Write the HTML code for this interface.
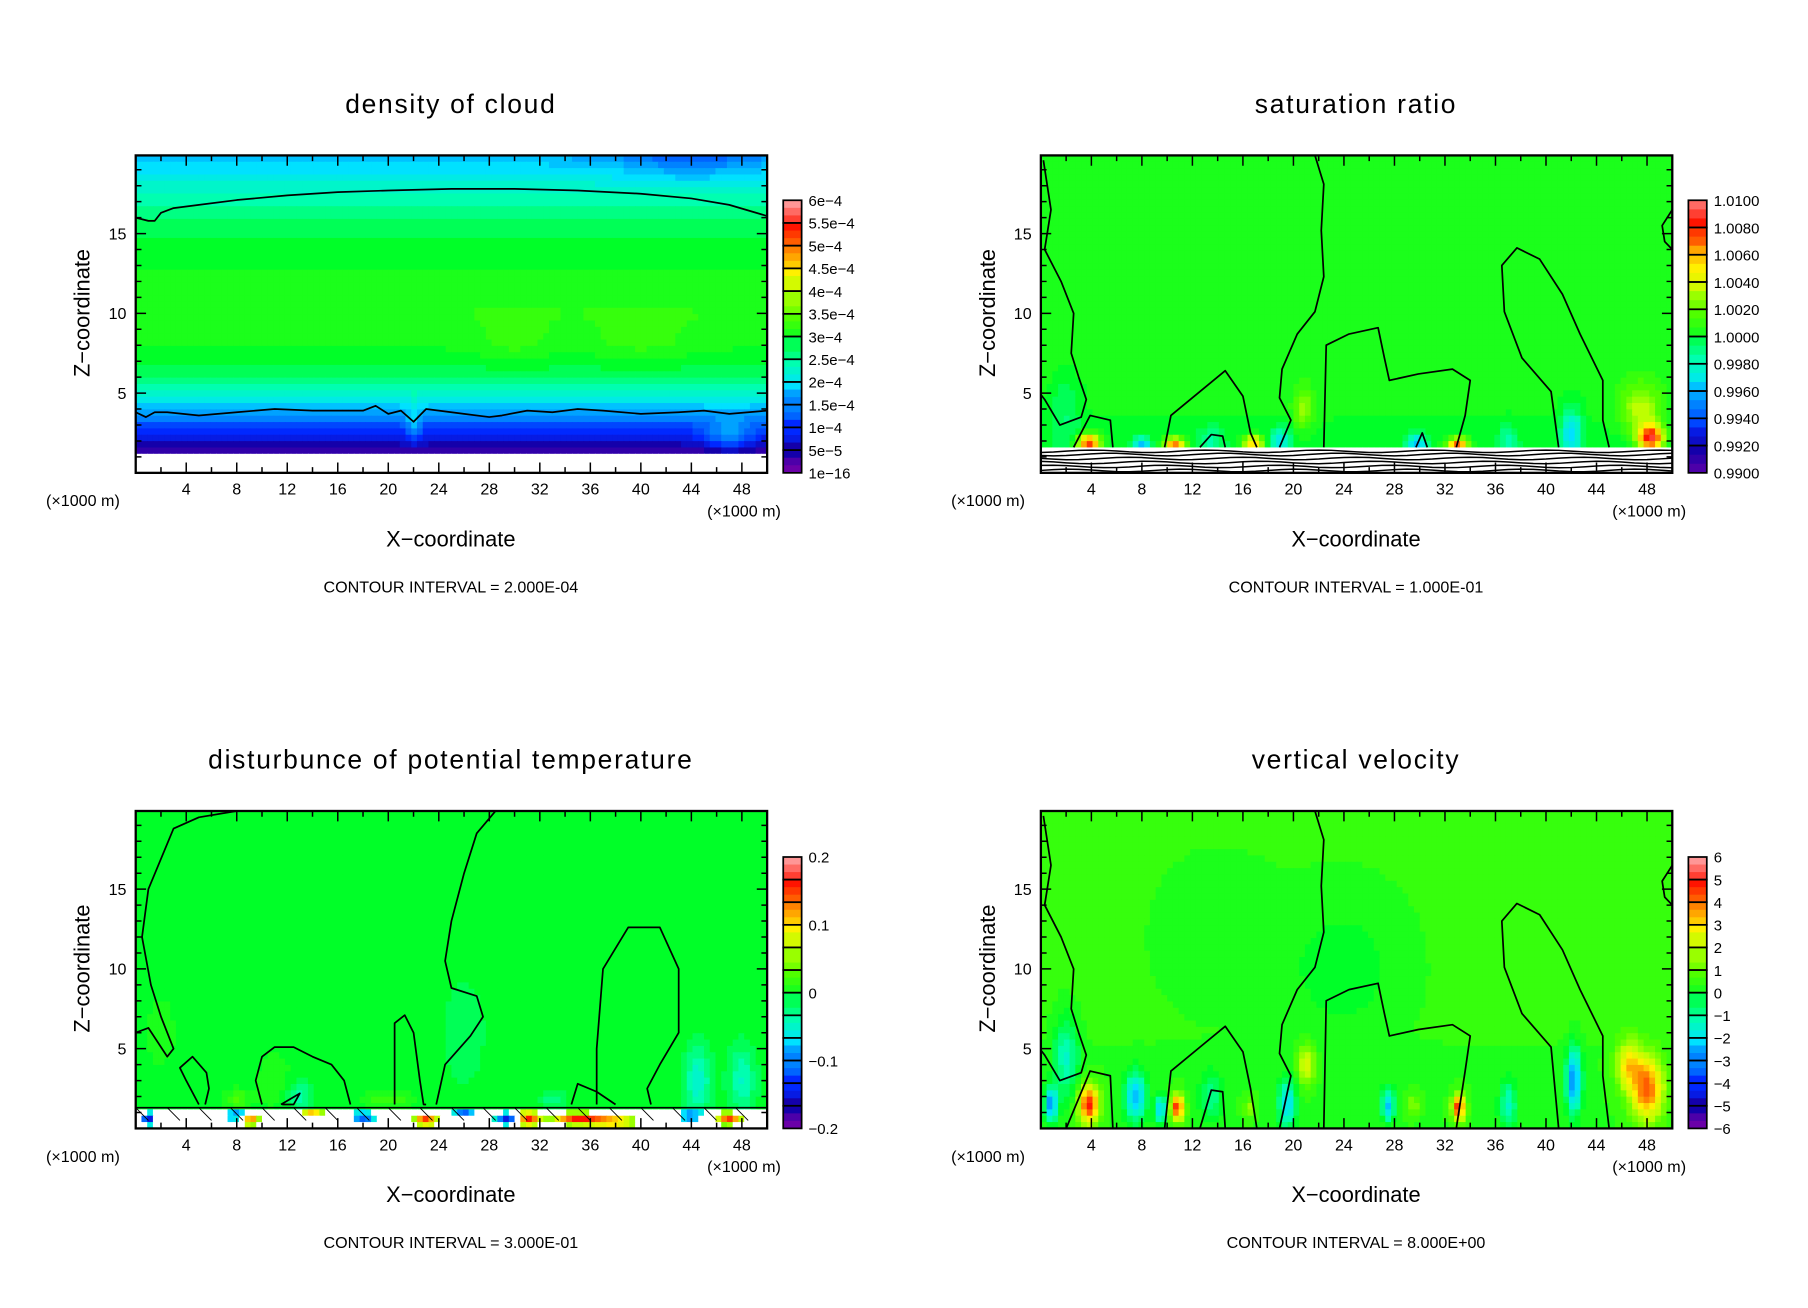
<!DOCTYPE html>
<html><head><meta charset="utf-8"><style>
html,body{margin:0;padding:0;background:#fff;}
svg{display:block;}
text{font-family:"Liberation Sans",sans-serif;fill:#000;}
</style></head><body>
<svg id="fig" width="1808" height="1308" viewBox="0 0 1572 1137" xmlns="http://www.w3.org/2000/svg"></svg>
<script>
// ---------- data ----------
const xTicks = [4,8,12,16,20,24,28,32,36,40,44,48];
const zTicks = [5,10,15];
const titles = ["density of cloud","saturation ratio","disturbunce of potential temperature","vertical velocity"];
const intervals = ["CONTOUR INTERVAL = 2.000E-04","CONTOUR INTERVAL = 1.000E-01","CONTOUR INTERVAL = 3.000E-01","CONTOUR INTERVAL = 8.000E+00"];
const cbLabels1 = ["6e\u22124","5.5e\u22124","5e\u22124","4.5e\u22124","4e\u22124","3.5e\u22124","3e\u22124","2.5e\u22124","2e\u22124","1.5e\u22124","1e\u22124","5e\u22125","1e\u221216"];
const cbLabels2 = ["1.0100","1.0080","1.0060","1.0040","1.0020","1.0000","0.9980","0.9960","0.9940","0.9920","0.9900"];
const cbLabels3 = ["0.2","0.1","0","\u22120.1","\u22120.2"];
const cbLabels4 = ["6","5","4","3","2","1","0","\u22121","\u22122","\u22123","\u22124","\u22125","\u22126"];
// vertical profiles (normalized colour-scale value vs height, km)
const profZ = [0,1.2,1.5,2,3,4,5,6,8,10,12,14,16,17.5,19,20];
const profDensity = [0.02,0.03,0.06,0.12,0.2,0.3,0.4,0.46,0.52,0.54,0.52,0.5,0.46,0.41,0.34,0.28];
const profSat = [0.5,0.5,0.5,0.5,0.51,0.52,0.52,0.53,0.53,0.53,0.53,0.53,0.53,0.53,0.53,0.53];
const profTemp = [0.5,0.5,0.5,0.5,0.5,0.5,0.5,0.5,0.5,0.5,0.5,0.5,0.5,0.5,0.5,0.5];
const profVel = [0.54,0.54,0.54,0.54,0.54,0.54,0.54,0.55,0.55,0.55,0.55,0.55,0.55,0.55,0.55,0.55];
// features: [x(km), z(km), sx, sz, amplitude]
const blobsDensity = [[44,20,6,2,-0.08],[47,2.3,2,1,0.12],[22,3,0.6,1.2,0.1],[30,8,3,2,0.03],[40,8,4,2,0.03]];
const blobsSat = [[3.8,1.9,0.9,0.5,0.4],[10.6,1.8,0.8,0.4,0.35],[33,1.8,0.8,0.4,0.35],[48.3,2.2,1,0.8,0.42],[47.5,4,1.6,1.6,0.15],[20.8,4,0.8,1.3,0.12],[16.8,1.9,0.8,0.4,0.3],
 [2,4,1.2,2.5,-0.06],[8,1.7,0.7,0.5,-0.2],[19,2,0.8,0.8,-0.15],[29.8,1.8,0.8,0.6,-0.2],[42,2.5,0.8,1.5,-0.18],[13.5,2,1,1,-0.08],[37,2,0.7,1,-0.1]];
const blobsTemp = [[8,1.8,1,0.6,0.08],[20,1.8,2,0.6,0.06],[26,6,1.5,3,-0.04],[44.5,3,1,2,-0.12],[48,3,1,2,-0.1],[13,2,1,1,-0.08],[2,6,1,2,0.04],[33,1.8,1,0.5,-0.06],[11,3,1.5,2,0.03]];
const blobsVel = [[3.8,1.5,0.8,1.2,0.37],[10.8,1.3,0.55,0.8,0.37],[33.1,1.3,0.5,0.8,0.37],[48,2.5,1.3,2,0.32],[46.5,4,1,1.5,0.2],[21,4,0.7,1.2,0.18],[16.5,1.3,0.5,0.6,0.1],[29.5,1.5,0.5,0.7,0.08],
 [0.8,1.5,0.5,1,-0.28],[7.5,2,0.8,1.5,-0.25],[9.5,1.2,0.5,0.8,-0.22],[2,4.5,1,2.5,-0.14],[13.5,2,1,1.5,-0.1],[19.5,1.5,0.7,1.5,-0.2],[27.5,1.4,0.5,1,-0.22],[42.2,3,0.6,2,-0.28],[37,1.5,0.7,1.5,-0.14],[24,10,5,5,-0.05],[14,12,5,5,-0.03]];
const specksTemp = [[1,0.6,0.5,0.4,-0.4],[8,0.8,1,0.3,-0.35],[9,0.5,0.8,0.3,0.45],[18,0.7,1,0.4,-0.3],[23,0.5,1,0.4,0.4],[29.5,0.6,1,0.4,-0.4],[31,0.6,1,0.5,0.45],[35,0.6,2,0.4,0.4],[38,0.4,2,0.3,0.35],[44,0.8,1,0.3,-0.35],[47,0.6,1,0.4,0.4],[26,0.9,1,0.3,-0.3],[14,0.9,1,0.3,0.3]];
// contour lines in data coords (x km, z km)
const contSat = [
 {x:[0.2,0.8,0.3,1.6,2.6,2.4,3.0,3.6,3.2,1.5,0.3,0],z:[19.6,16.5,14,12,10,7.5,6,4.6,3.5,3,4.6,4.9]},
 {x:[21.7,22.4,22.2,22.4,21.7,20.3,19.1,18.9,19.8,18.9],z:[19.9,18.1,15.2,12.3,10.1,8.7,6.5,4.7,3.3,1.6]},
 {x:[22.4,22.6,24.4,26.7,27.2,27.6,29.9,32.6,34.0,33.6,32.9],z:[1.6,8,8.7,9.1,7.2,5.8,6.2,6.5,5.8,3.6,1.6]},
 {x:[41.0,40.4,38.1,36.7,36.5,37.7,39.5,41.3,42.7,44.5,44.5,45.0],z:[1.6,5.1,7.2,10.1,13.0,14.1,13.4,11.2,8.7,5.8,3.3,1.6]},
 {x:[9.8,10.3,12.6,14.6,16.0,16.6,17.1],z:[1.6,3.6,5.1,6.4,4.8,2.5,1.6]},
 {x:[2.6,3.9,5.5,5.7],z:[1.6,3.6,3.3,1.6]},
 {x:[50,49.2,49.4,50],z:[16.5,15.5,14.5,14]},
 {x:[12.6,13.5,14.4,14.6],z:[1.6,2.4,2.3,1.6]},
 {x:[29.7,30.2,30.6],z:[1.6,2.5,1.6]}];
const contVel = [
 {x:[0.2,0.8,0.3,1.6,2.6,2.4,3.0,3.6,3.2,1.5,0.3,0],z:[19.6,16.5,14,12,10,7.5,6,4.6,3.5,3,4.6,4.9]},
 {x:[21.7,22.4,22.2,22.4,21.7,20.3,19.1,18.9,19.8,18.9],z:[19.9,18.1,15.2,12.3,10.1,8.7,6.5,4.7,3.3,0]},
 {x:[22.4,22.6,24.4,26.7,27.2,27.6,29.9,32.6,34.0,33.6,32.9],z:[0,8,8.7,9.1,7.2,5.8,6.2,6.5,5.8,3.6,0]},
 {x:[41.0,40.4,38.1,36.7,36.5,37.7,39.5,41.3,42.7,44.5,44.5,45.0],z:[0,5.1,7.2,10.1,13.0,14.1,13.4,11.2,8.7,5.8,3.3,0]},
 {x:[9.8,10.3,12.6,14.6,16.0,16.6,17.1],z:[0,3.6,5.1,6.4,4.8,2.5,0]},
 {x:[2.0,3.9,5.5,5.7],z:[0,3.6,3.3,0]},
 {x:[50,49.2,49.4,50],z:[16.5,15.5,14.5,14]},
 {x:[12.6,13.5,14.4,14.6],z:[0,2.4,2.3,0]}];
const contTemp = [
 {x:[8,5,3,1,0.5,1.2,2,3,2.5,1,0],z:[19.9,19.5,18.8,15,12,9,7,5,4.5,6.3,6]},
 {x:[5,4,3.5,4.5,5.6,5.8,5.5],z:[1.5,3,3.8,4.5,3.5,2.5,1.5]},
 {x:[28.5,27,26,25,24.5,25,27,27.5,26.5,24.5,23.8],z:[19.9,18.5,16,13,10.5,8.8,8.3,7,5.8,4,1.5]},
 {x:[10,9.5,10,11,12.5,14,15.5,16.5,17],z:[1.5,3,4.5,5.1,5.1,4.5,4,3,1.5]},
 {x:[20.5,20.5,20.5,21.3,22,22.5,22.8,23],z:[1.5,4,6.6,7.1,6,3,1.5,1.5]},
 {x:[36.5,36.5,37,39,41.5,43,43,41.5,40.5,40.8],z:[1.5,5,10,12.6,12.6,10,6,4,2.5,1.5]},
 {x:[34.5,35,36.5,38],z:[1.5,2.8,2.3,1.5]},
 {x:[11.5,13,12.5,11.6],z:[1.5,2.2,1.5,1.5]}];
const satBottomLines = [0.15,0.4,0.65,0.9,1.15,1.35];

// ---------- helpers ----------
const SVGNS="http://www.w3.org/2000/svg";
const fig=document.getElementById('fig');
function mk(tag,attrs,parent){const e=document.createElementNS(SVGNS,tag);for(const k in attrs)e.setAttribute(k,attrs[k]);(parent||fig).appendChild(e);return e;}
const cmapStops=[[0,[106,0,168]],[0.083,[20,0,170]],[0.167,[0,40,255]],[0.25,[0,130,255]],[0.333,[0,225,255]],[0.417,[0,255,176]],[0.5,[0,255,40]],[0.583,[80,255,0]],[0.667,[190,255,0]],[0.75,[255,240,0]],[0.833,[255,130,0]],[0.917,[255,20,0]],[1,[255,150,150]]];
function cmap(t){t=Math.max(0,Math.min(1,t));t=Math.round(t*36)/36;
 for(let i=1;i<cmapStops.length;i++){if(t<=cmapStops[i][0]){const a=cmapStops[i-1],b=cmapStops[i];const f=(t-a[0])/(b[0]-a[0]);
  const c=a[1].map((v,j)=>Math.round(v+(b[1][j]-v)*f));return `rgb(${c[0]},${c[1]},${c[2]})`;}}
 return 'rgb(255,150,150)';}
function interp(zs,vs,z){if(z<=zs[0])return vs[0];for(let i=1;i<zs.length;i++)if(z<=zs[i]){const f=(z-zs[i-1])/(zs[i]-zs[i-1]);return vs[i-1]+(vs[i]-vs[i-1])*f;}return vs[vs.length-1];}
function blobSum(bl,x,z){let s=0;for(const b of bl){const dx=(x-b[0])/b[2],dz=(z-b[1])/b[3];s+=b[4]*Math.exp(-dx*dx-dz*dz);}return s;}

const panels=[
 {px:118,py:135,cbx:681,cb0:174,labels:cbLabels1,prof:profDensity,blobs:blobsDensity,mask:1.25,cont:[{x:[0,1,1.5,2,3,5,8,12,16,20,25,30,35,40,44,47,50],z:[16,15.8,15.8,16.3,16.6,16.8,17.1,17.4,17.6,17.7,17.8,17.8,17.7,17.5,17.2,16.8,16.1]},{x:[0,0.8,1.5,2.5,5,8,11,14,18,19,20,21,22,23,26,28,29,31,33,35,37,40,43,45,47,50],z:[3.8,3.5,3.8,3.8,3.6,3.8,4.0,3.9,3.9,4.2,3.7,3.9,3.2,4.0,3.7,3.5,3.6,3.9,3.8,4.0,3.9,3.7,3.8,3.9,3.7,3.9]}]},
 {px:905,py:135,cbx:1468,cb0:174,labels:cbLabels2,prof:profSat,blobs:blobsSat,mask:1.4,cont:contSat,bottomLines:true},
 {px:118,py:705,cbx:681,cb0:745,labels:cbLabels3,prof:profTemp,blobs:blobsTemp,mask:1.3,cont:contTemp,specks:true,boxes:12},
 {px:905,py:705,cbx:1468,cb0:745,labels:cbLabels4,prof:profVel,blobs:blobsVel,mask:-1,cont:contVel}
];
const W=549,H=276,XMAX=50,ZMAX=19.9;

panels.forEach((p,pi)=>{
 const g=mk('g',{});
 
 
 const sx=x=>p.px+x/XMAX*W, sz=z=>p.py+H-z/ZMAX*H;
 const hm=mk('g',{},g);
 
 
 const NC=110,NR=50,cw=W/NC,ch=H/NR;
 for(let r=0;r<NR;r++){const z=ZMAX*(1-(r+0.5)/NR);
  for(let c=0;c<NC;c++){const x=XMAX*(c+0.5)/NC;let fill;
   if(z<p.mask){ if(p.specks){const v=blobSum(specksTemp,x,z);fill=Math.abs(v)>0.12?cmap(0.5+v):'#fff';} else fill='#fff';}
   else fill=cmap(interp(profZ,p.prof,z)+blobSum(p.blobs,x,z));
   const rc=mk('rect',{x:(p.px+c*cw).toFixed(2),y:(p.py+r*ch).toFixed(2),width:(cw+0.6).toFixed(2),height:(ch+0.6).toFixed(2),fill:fill},hm);
   
   
  }}
 if(p.bottomLines){satBottomLines.forEach((lz,i)=>{let d='';for(let x=0;x<=50;x+=1){const z=lz+0.08*Math.sin(x*0.7+i);d+=(x?'L':'M')+sx(x).toFixed(1)+' '+sz(z).toFixed(1);}
   const l=mk('path',{d:d,fill:'none',stroke:'#000','stroke-width':1.3},g);
   
   });}
 if(p.specks){let d='';for(let x=0;x<50;x+=2.5){d+=`M${sx(x)} ${sz(1.3)}L${sx(x+1)} ${sz(0.5)}`;}
   const l=mk('path',{d:d,fill:'none',stroke:'#000','stroke-width':0.8},g);
   
   
   const l2=mk('path',{d:`M${sx(0)} ${sz(1.3)}L${sx(50)} ${sz(1.3)}`,stroke:'#000','stroke-width':1.5},g);
   
   }
 p.cont.forEach(cn=>{let d='';cn.x.forEach((x,i)=>{d+=(i?'L':'M')+sx(x).toFixed(1)+' '+sz(cn.z[i]).toFixed(1);});
  const l=mk('path',{d:d,fill:'none',stroke:'#000','stroke-width':1.5,'stroke-linejoin':'round'},g);
  
  });
 const fr=mk('rect',{x:p.px,y:p.py,width:W,height:H,fill:'none',stroke:'#000','stroke-width':2},g);
 
 
 let td='';
 for(let x=2;x<50;x+=2){const L=(x%4===0)?9:5;td+=`M${sx(x)} ${p.py+H}v${-L}M${sx(x)} ${p.py}v${L}`;}
 for(let z=1;z<20;z+=1){const L=(z%5===0)?9:5;td+=`M${p.px} ${sz(z)}h${L}M${p.px+W} ${sz(z)}h${-L}`;}
 mk('path',{d:td,stroke:'#000','stroke-width':1.3,fill:'none'},g);
 xTicks.forEach(x=>{const t=mk('text',{x:sx(x),y:p.py+H+19,'text-anchor':'middle','font-size':14},g);t.textContent=x;
  
  });
 zTicks.forEach(z=>{const t=mk('text',{x:p.px-8,y:sz(z)+5,'text-anchor':'end','font-size':14},g);t.textContent=z;
  
  });
 const tt=mk('text',{x:p.px+274,y:p.py-37,'text-anchor':'middle','font-size':23,'letter-spacing':1.5},g);tt.textContent=titles[pi];
 
 
 const u1=mk('text',{x:p.px-78,y:p.py+H+29,'font-size':14},g);u1.textContent='(\u00d71000 m)';
 
 
 const u2=mk('text',{x:p.px+W+12,y:p.py+H+38,'text-anchor':'end','font-size':14},g);u2.textContent='(\u00d71000 m)';
 
 
 const xt=mk('text',{x:p.px+274,y:p.py+H+64,'text-anchor':'middle','font-size':19},g);xt.textContent='X\u2212coordinate';
 
 
 const yt=mk('text',{x:0,y:0,'text-anchor':'middle','font-size':19,transform:`translate(${p.px-40},${p.py+137}) rotate(-90)`},g);yt.textContent='Z\u2212coordinate';
 
 
 const ci=mk('text',{x:p.px+274,y:p.py+H+104,'text-anchor':'middle','font-size':14},g);ci.textContent=intervals[pi];
 
 
 const cb=mk('g',{},g);
 
 
 const nb=p.boxes||(p.labels.length-1);const cbH=p.py+H-p.cb0;const bh=cbH/nb;
 for(let i=0;i<nb;i++){for(let s=0;s<3;s++){const t=1-(i+(s+0.5)/3)/nb;
   mk('rect',{x:p.cbx,y:(p.cb0+i*bh+s*bh/3).toFixed(2),width:16,height:(bh/3+0.4).toFixed(2),fill:cmap(t)},cb);}
  mk('rect',{x:p.cbx,y:(p.cb0+i*bh).toFixed(2),width:16,height:bh.toFixed(2),fill:'none',stroke:'#000','stroke-width':1.5},cb);}
 const nl=p.labels.length;
 p.labels.forEach((lb,i)=>{const y=p.cb0+i*cbH/(nl-1);const t=mk('text',{x:p.cbx+22,y:y+5,'font-size':13},cb);t.textContent=lb;
  
  });
});
</script>
</body></html>
